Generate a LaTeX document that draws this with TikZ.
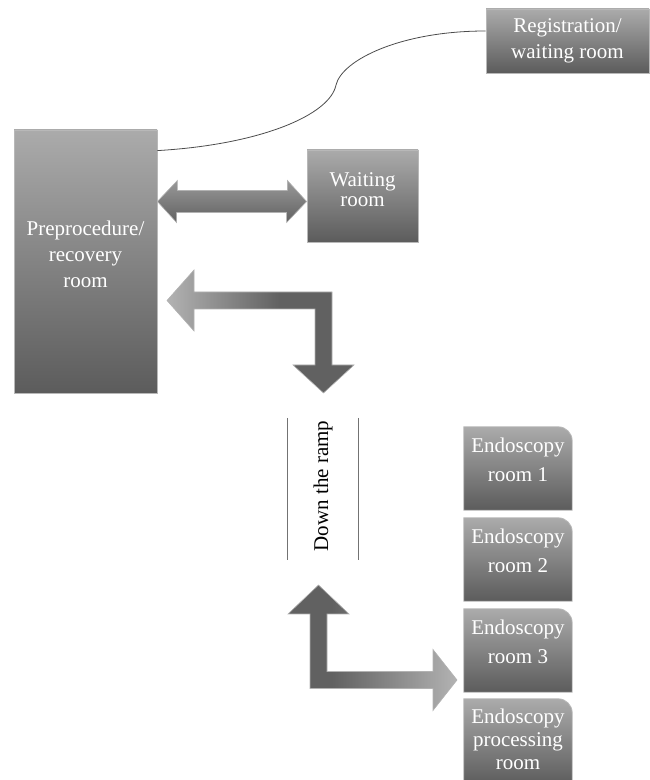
\documentclass[tikz,border=0pt]{standalone}
\usepackage{fontspec}
\setmainfont{Liberation Serif}
\usetikzlibrary{calc,backgrounds}
\pgfdeclarehorizontalshading{fadeout}{100bp}{color(0bp)=(black!30); color(25bp)=(black!30); color(55bp)=(black!62); color(100bp)=(black!62)}
\pgfdeclarehorizontalshading{fadein}{100bp}{color(0bp)=(black!62); color(38bp)=(black!62); color(75bp)=(black!30); color(100bp)=(black!30)}

\begin{document}
\begin{tikzpicture}[x=1pt,y=1pt,
  room/.style={draw=black!28,line width=.8pt,top color=black!33,bottom color=black!64,inner sep=0pt},
  endo/.style={minimum width=108pt,minimum height=83pt,inner sep=0pt},
  roomtext/.style={anchor=north,text=white,align=center,inner sep=0pt},
  blockarrow/.style={draw=black!30,line width=.6pt},
  link/.style={draw=black!70,line width=.8pt},
  ramp/.style={draw=black!55,line width=.8pt}]
\useasboundingbox (0,0) rectangle (649,780);

\node[room,minimum width=163pt,minimum height=64pt,
  label={[roomtext,yshift=-9.7pt,font=\fontsize{21}{26}\selectfont]90:{Registration/\\waiting room}}]
  (reg) at (567.5,739) {};
\node[room,minimum width=143pt,minimum height=263pt,
  label={[roomtext,yshift=-91pt,font=\fontsize{21}{26}\selectfont]90:{Preprocedure/\\recovery\\room}}]
  (pre) at (85.5,518.5) {};
\node[room,minimum width=111pt,minimum height=92pt,
  label={[roomtext,yshift=-22.4pt,font=\fontsize{21}{20}\selectfont]90:{Waiting\\room}}]
  (wait) at (362.5,584) {};

\node[endo,label={[roomtext,yshift=-11.4pt,font=\fontsize{21}{29}\selectfont]90:{Endoscopy\\room 1}}]
  (e1) at (518,311.5) {};
\node[endo,label={[roomtext,yshift=-11.4pt,font=\fontsize{21}{29}\selectfont]90:{Endoscopy\\room 2}}]
  (e2) at (518,220.5) {};
\node[endo,label={[roomtext,yshift=-11.4pt,font=\fontsize{21}{29}\selectfont]90:{Endoscopy\\room 3}}]
  (e3) at (518,129.5) {};
\node[endo,minimum height=86pt,label={[roomtext,yshift=-9.7pt,font=\fontsize{21}{23}\selectfont]90:{Endoscopy\\processing\\room}}]
  (e4) at (518,38) {};

\begin{scope}[on background layer]
\foreach \e in {e1,e2,e3,e4}
  \draw[room] (\e.south west) -- (\e.north west) -- ([xshift=-14pt]\e.north east)
    arc[start angle=90,end angle=0,radius=14pt] -- (\e.south east) -- cycle;
\end{scope}

\draw[link] ([yshift=-21pt]pre.north east) .. controls +(103,6) and +(-6,-30) .. (336,695)
  .. controls +(6,25) and +(-85,0) .. ([yshift=10pt]reg.west);

\draw[blockarrow,top color=black!40,bottom color=black!62]
  (pre.east |- 0,578.5) -- ++(20,21) -- ++(0,-10) -- ++(110,0) -- ++(0,10)
  -- (wait.west |- 0,578.5) -- ++(-20,-21) -- ++(0,10) -- ++(-110,0) -- ++(0,-10) -- cycle;

\draw[blockarrow,shading=fadeout]
  (167,479.5) -- (194,510) -- (194,488) -- (332,488) -- (332,415) -- (354,415)
  -- (323.5,387) -- (293,415) -- (315,415) -- (315,471) -- (194,471) -- (194,449) -- cycle;

\node[rotate=90,font=\fontsize{21}{26}\selectfont] (down) at (323,294) {Down the ramp};
\draw[ramp] (287,362) -- (287,220);
\draw[ramp] (358,362) -- (358,220);

\draw[blockarrow,shading=fadein]
  (318.5,195) -- (349,166) -- (327,166) -- (327,108.5) -- (433,108.5) -- (433,130.5)
  -- (457,100) -- (433,69.5) -- (433,91.5) -- (310,91.5) -- (310,166) -- (288,166) -- cycle;
\end{tikzpicture}
\end{document}
